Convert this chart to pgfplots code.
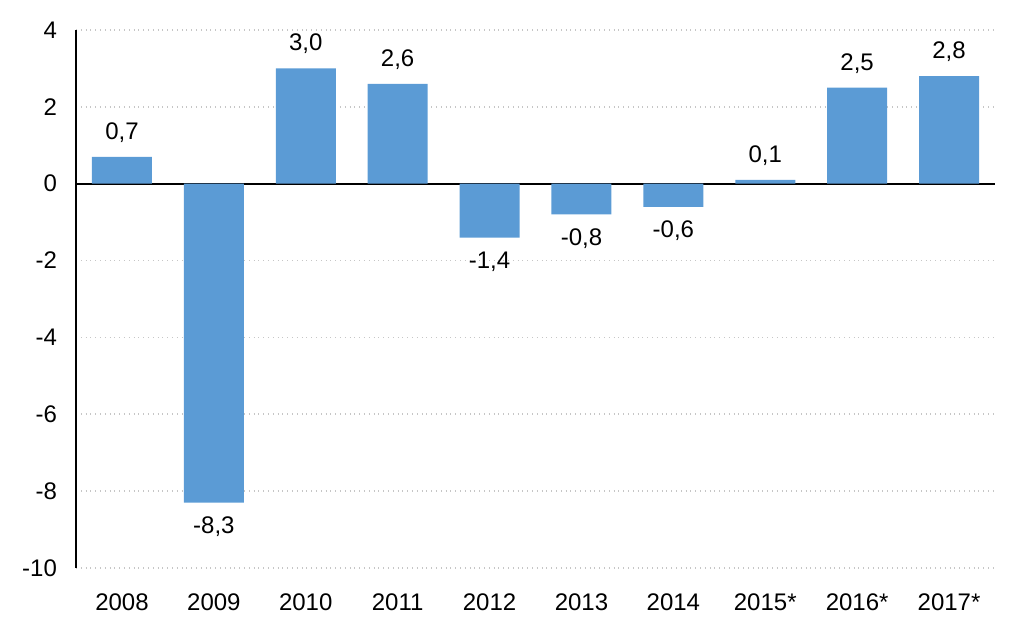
\documentclass[border=0pt]{standalone}
\usepackage{fontspec}
\setmainfont{Liberation Sans}
\usepackage{pgfplots}
\pgfplotsset{compat=1.18}
\definecolor{barblue}{HTML}{5B9BD5}
\begin{document}
\begin{tikzpicture}
\begin{axis}[
    scale only axis,
    width=459.5pt,
    height=269pt,
    font=\fontsize{12}{14}\selectfont,
    xmin=-0.5,xmax=9.5,
    ymin=-10,ymax=4,
    ytick={-10,-8,-6,-4,-2,0,2,4},
    xtick={0,...,9},
    xticklabels={2008,2009,2010,2011,2012,2013,2014,2015*,2016*,2017*},
    axis lines*=left,
    x axis line style={draw=none},
    y axis line style={black,line width=1pt,-},
    tick style={draw=none},
    ymajorgrids,
    grid style={gray!45,dotted,line width=0.8pt},
    extra y ticks={0},
    extra y tick labels={},
    extra y tick style={grid style={black,solid,line width=1pt}},
    /pgf/number format/assume math mode=true,
    yticklabel style={xshift=-6pt},
    xticklabel style={yshift=-5pt},
    ybar,
    bar width=30pt,
    nodes near coords,
    nodes near coords align={vertical},
    every node near coord/.append style={font=\fontsize{12}{14}\selectfont,black,inner sep=7pt,
        /pgf/number format/.cd,use comma,fixed,fixed zerofill,precision=1,assume math mode=true},
]
\addplot[fill=barblue,draw=none] coordinates {
(0,0.7)(1,-8.3)(2,3.0)(3,2.6)(4,-1.4)(5,-0.8)(6,-0.6)(7,0.1)(8,2.5)(9,2.8)};
\end{axis}
\pgfresetboundingbox
\path (-38pt,-31pt) rectangle (474pt,284pt);
\end{tikzpicture}
\end{document}
